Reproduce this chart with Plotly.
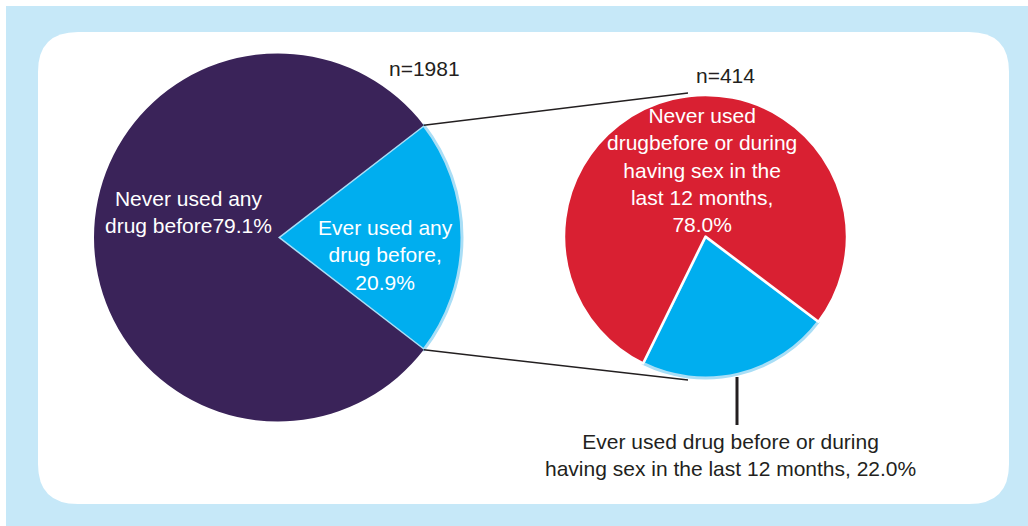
import math
import plotly.graph_objects as go

# Overall drug use among respondents (n=1981)
overall_labels = ["Ever used any drug before", "Never used any drug before"]
overall_values = [20.9, 79.1]
overall_n = 1981

# Drug use around sex among those who ever used drugs (n=414)
sub_labels = [
    "Ever used drug before or during having sex in the last 12 months",
    "Never used drugbefore or during having sex in the last 12 months",
]
sub_values = [22.0, 78.0]
sub_n = 414

W, H = 1028, 526
FONT = "Liberation Sans, Arial, Helvetica, sans-serif"
DARK = "#231f20"
PURPLE = "#3a2359"
BLUE = "#00aeef"
RED = "#d92032"
PALE = "#c6e8f8"
EDGE = "#a9def6"

# geometry of the two pies (pixels)
L_CX, L_CY, L_R = 278, 237.5, 184
R_CX, R_CY, R_R = 705.5, 236.5, 141.5


def dom(cx, cy, r):
    return dict(x=[(cx - r) / W, (cx + r) / W],
                y=[(H - cy - r) / H, (H - cy + r) / H])


# the highlighted slice of the left pie is centred on 3 o'clock
blue_share = overall_values[0] / sum(overall_values)
half_angle = 360 * blue_share / 2
left_rotation = 90 - half_angle

fig = go.Figure()

fig.add_trace(go.Pie(
    labels=overall_labels, values=overall_values, sort=False,
    direction="clockwise", rotation=left_rotation,
    marker=dict(colors=[BLUE, PURPLE],
                line=dict(color=[EDGE, PURPLE], width=[3, 0])),
    textinfo="none", hoverinfo="label+percent", showlegend=False,
    domain=dom(L_CX, L_CY, L_R),
))

fig.add_trace(go.Pie(
    labels=sub_labels, values=sub_values, sort=False,
    direction="clockwise", rotation=127,
    marker=dict(colors=[BLUE, RED],
                line=dict(color=[EDGE, "white"], width=[3, 2.5])),
    textinfo="none", hoverinfo="label+percent", showlegend=False,
    domain=dom(R_CX, R_CY, R_R),
))

# end points of the exploded slice on the left pie
a = math.radians(half_angle)
top_pt = (L_CX + L_R * math.cos(a), L_CY - L_R * math.sin(a))
bot_pt = (L_CX + L_R * math.cos(a), L_CY + L_R * math.sin(a))

rr = 40
x0, y0, x1, y1 = 38, 32, 1009, 504
card = (f"M {x0+rr},{y0} L {x1-rr},{y0} Q {x1},{y0} {x1},{y0+rr} "
        f"L {x1},{y1-rr} Q {x1},{y1} {x1-rr},{y1} L {x0+rr},{y1} "
        f"Q {x0},{y1} {x0},{y1-rr} L {x0},{y0+rr} Q {x0},{y0} {x0+rr},{y0} Z")

shapes = [
    dict(type="rect", xref="x", yref="y", x0=6, y0=6, x1=W, y1=H,
         fillcolor=PALE, line=dict(width=0), layer="below"),
    dict(type="path", xref="x", yref="y", path=card,
         fillcolor="white", line=dict(width=0), layer="below"),
    dict(type="line", xref="x", yref="y", x0=top_pt[0], y0=top_pt[1],
         x1=688, y1=93, line=dict(color=DARK, width=1.5)),
    dict(type="line", xref="x", yref="y", x0=bot_pt[0], y0=bot_pt[1],
         x1=688, y1=380, line=dict(color=DARK, width=1.5)),
    dict(type="line", xref="x", yref="y", x0=737, y0=377, x1=737, y1=425,
         line=dict(color=DARK, width=3)),
]


def note(x, y, text, color, size=21):
    return dict(x=x, y=y, xref="x", yref="y", text=text, showarrow=False,
                xanchor="center", yanchor="middle", align="center",
                font=dict(family=FONT, size=size, color=color))


annotations = [
    note(188, 211.5, f"Never used any<br>drug before{overall_values[1]:.1f}%", "white"),
    note(385, 255, f"Ever used any<br>drug before,<br>{overall_values[0]:.1f}%", "white"),
    note(702, 169.5, "Never used<br>drugbefore or during<br>having sex in the<br>"
                     f"last 12 months,<br>{sub_values[1]:.1f}%", "white"),
    note(730, 455, "Ever used drug before or during<br>having sex in the last 12 months, "
                   f"{sub_values[0]:.1f}%", DARK),
    note(424, 68, f"n={overall_n}", DARK),
    note(725, 75, f"n={sub_n}", DARK),
]

fig.update_layout(
    width=W, height=H, autosize=False,
    margin=dict(l=0, r=0, t=0, b=0),
    paper_bgcolor="white", plot_bgcolor="rgba(0,0,0,0)",
    xaxis=dict(range=[0, W], visible=False, fixedrange=True, domain=[0, 1]),
    yaxis=dict(range=[H, 0], visible=False, fixedrange=True, domain=[0, 1]),
    shapes=shapes, annotations=annotations, showlegend=False,
)

fig.write_html("out.html")
